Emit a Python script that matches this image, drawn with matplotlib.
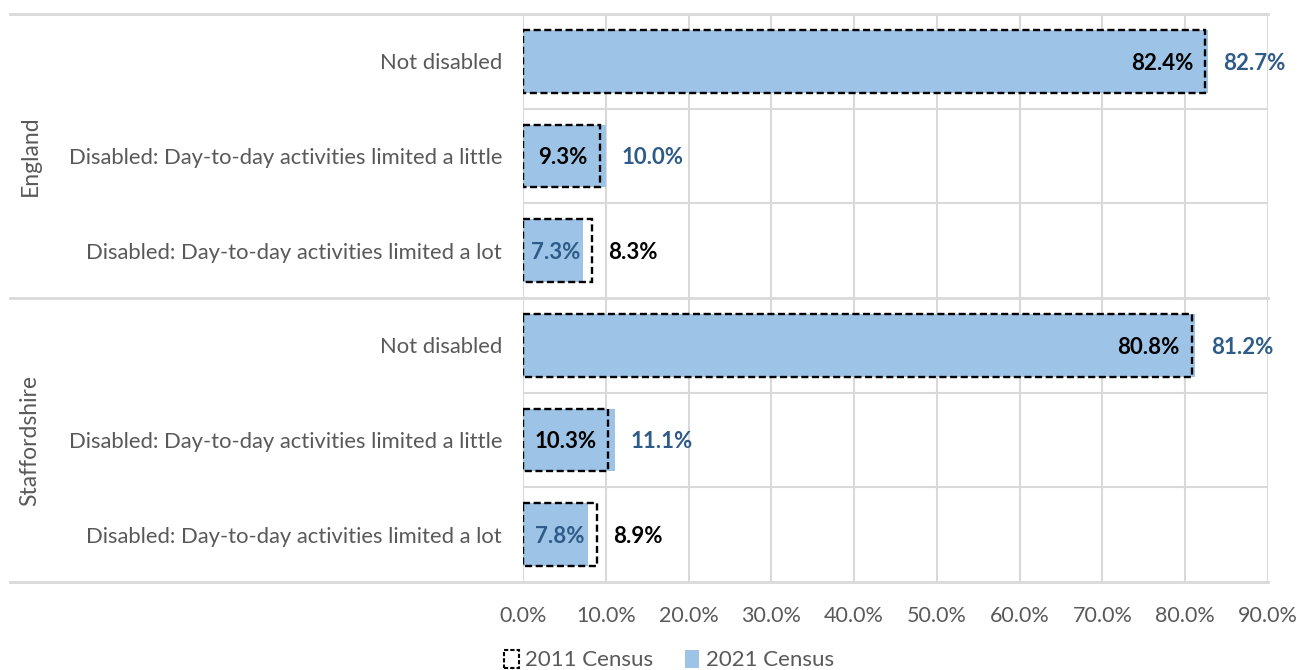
import matplotlib
matplotlib.use("Agg")
import matplotlib.pyplot as plt
import matplotlib.transforms as mtransforms
from matplotlib.patches import Patch
from matplotlib.lines import Line2D

categories = ["Not disabled",
              "Disabled: Day-to-day activities limited a little",
              "Disabled: Day-to-day activities limited a lot"]
groups = ["England", "Staffordshire"]
england_2011 = [82.4, 9.3, 8.3]
england_2021 = [82.7, 10.0, 7.3]
staffs_2011 = [80.8, 10.3, 8.9]
staffs_2021 = [81.2, 11.1, 7.8]
xticks = [0, 10, 20, 30, 40, 50, 60, 70, 80, 90]
series_names = ["2011 Census", "2021 Census"]

plt.rcParams['font.family'] = ['Lato', 'DejaVu Sans']
GRAY = "#595959"
GRID = "#D9D9D9"
BLUE = "#9DC3E6"
DBLUE = "#2E5B88"

fig = plt.figure(figsize=(13.01, 6.70), dpi=100)
ax = fig.add_axes([523/1301, 1-582/670, (1268-523)/1301, (582-14)/670])

vals2011 = england_2011 + staffs_2011
vals2021 = england_2021 + staffs_2021
labels = categories + categories
ypos = list(range(len(vals2011)))

ax.barh(ypos, vals2021, height=0.66, color=BLUE, zorder=2)
ax.barh(ypos, vals2011, height=0.66, fill=False, edgecolor="black",
        linestyle=(0, (3, 1.5)), linewidth=1.7, zorder=3)

LFS = 16
for y, a, b in zip(ypos, vals2011, vals2021):
    s_a = f"{a:.1f}%"
    s_b = f"{b:.1f}%"
    if a <= b:
        ax.annotate(s_a, (a, y), xytext=(-12, -2), textcoords="offset pixels",
                    ha="right", va="center", fontsize=LFS, fontweight="bold", color="black", zorder=4)
        ax.annotate(s_b, (b, y), xytext=(16, -2), textcoords="offset pixels",
                    ha="left", va="center", fontsize=LFS, fontweight="bold", color=DBLUE, zorder=4)
    else:
        ax.annotate(s_b, (b, y), xytext=(-3, -2), textcoords="offset pixels",
                    ha="right", va="center", fontsize=LFS, fontweight="bold", color=DBLUE, zorder=4)
        ax.annotate(s_a, (a, y), xytext=(16, -2), textcoords="offset pixels",
                    ha="left", va="center", fontsize=LFS, fontweight="bold", color="black", zorder=4)

ax.set_xlim(0, 90)
ax.set_ylim(len(ypos) - 0.5, -0.5)
ax.set_xticks(xticks)
ax.set_xticklabels([f"{t:.1f}%" for t in xticks])
ax.set_yticks(ypos)
ax.set_yticklabels(labels)
ax.tick_params(axis="both", length=0, colors=GRAY)
ax.tick_params(axis="x", pad=17, labelsize=15.5)
ax.tick_params(axis="y", pad=15, labelsize=15.8)
for sp in ax.spines.values():
    sp.set_visible(False)
ax.grid(axis="x", color=GRID, linewidth=1.5, zorder=0)
ax.set_axisbelow(True)
ax.axvline(0, color=GRID, linewidth=1.5, zorder=1)

# horizontal separators
trans = mtransforms.blended_transform_factory(ax.transAxes, ax.transData)
x_left = (10 - 523) / (1268 - 523)
for yb in [0.5, 1.5, 3.5, 4.5]:
    ax.axhline(yb, color=GRID, linewidth=1.5, zorder=0)
for yb in [-0.5, 2.5, 5.5]:
    ax.add_line(Line2D([x_left, 1.0], [yb, yb], transform=trans, color=GRID,
                       linewidth=2, clip_on=False, zorder=0))

# group labels
gx = (30 - 523) / (1268 - 523)
for i, g in enumerate(groups):
    ax.text(gx, i * 3 + 1, g, transform=trans, rotation=90, ha="center", va="center",
            fontsize=16.5, color=GRAY)

handles = [Patch(facecolor="none", edgecolor="black", linestyle=(0, (2, 1)), linewidth=1.5),
           Patch(facecolor=BLUE, edgecolor="none")]
fig.legend(handles, series_names, loc="center", bbox_to_anchor=(669/1301, 1-660/670),
           ncol=2, frameon=False, fontsize=16, labelcolor=GRAY, handlelength=0.65,
           handleheight=0.9, handletextpad=0.3, columnspacing=1.4)

fig.savefig("out.png", dpi=100)
